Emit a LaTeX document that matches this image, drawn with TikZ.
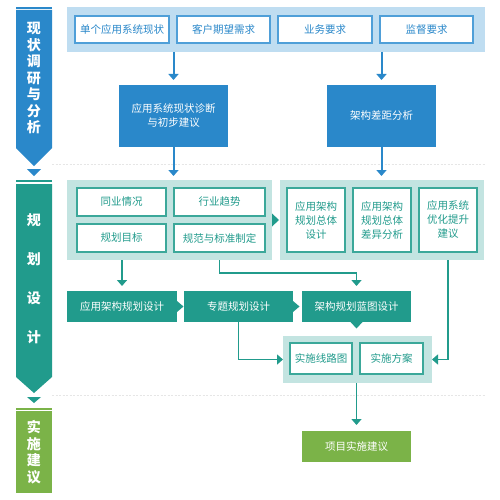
\documentclass[tikz,border=0pt]{standalone}
\usepackage{fontspec}
\setmainfont{Noto Sans CJK SC}
\usetikzlibrary{arrows.meta,calc}
\definecolor{cblue}{HTML}{2A88CA}
\definecolor{cbluelt}{HTML}{BFDDF1}
\definecolor{cblueln}{HTML}{4F9FD8}
\definecolor{cteal}{HTML}{219B8C}
\definecolor{ctealt}{HTML}{C3E4E1}
\definecolor{ctealln}{HTML}{3BA89A}
\definecolor{cgreen}{HTML}{7BB348}
\definecolor{cdash}{HTML}{E6E6E6}
\begin{document}
\begin{tikzpicture}[x=1pt,y=-1pt,
  every node/.style={inner sep=0pt,outer sep=0pt},
  sz/.style 2 args={minimum width=#1pt,minimum height=#2pt},
  fbox/.style={anchor=north west,align=center,font=\fontsize{10.5}{14}\selectfont},
  panelB/.style={fbox,fill=cbluelt},
  panelT/.style={fbox,fill=ctealt},
  inB/.style={fbox,fill=white,draw=cblueln,line width=1.2pt,text=cblue},
  inT/.style={fbox,fill=white,draw=ctealln,line width=1.2pt,text=cteal},
  solB/.style={fbox,fill=cblue,text=white},
  solT/.style={fbox,fill=cteal,text=white},
  solG/.style={fbox,fill=cgreen,text=white},
  bartext/.style={text=white,align=center,font=\fontsize{14}{16.5}\selectfont\bfseries},
  arrB/.style={draw=cblue,line width=2pt,-{Triangle[width=10pt,length=6pt]}},
  arrT/.style={draw=cteal,line width=1.4pt,-{Triangle[width=10pt,length=6pt]}},
  sep/.style={draw=cdash,line width=0.8pt,dash pattern=on 2pt off 1.5pt}
]
\useasboundingbox[fill=white] (0,0) rectangle (500,500);

% ---- left phase bars
\fill[cblue] (16,7) rectangle (52,8.6);
\fill[cblue] (16,10) -- (52,10) -- (52,148) -- (34,166) -- (16,148) -- cycle;
\fill[cblue] (27,169) -- (41,169) -- (34,176) -- cycle;
\node[bartext] (L1) at (34,78) {现\\状\\调\\研\\与\\分\\析};

\fill[cteal] (16,180) rectangle (52,182);
\fill[cteal] (16,184) -- (52,184) -- (52,377) -- (34,393) -- (16,377) -- cycle;
\fill[cteal] (27,397) -- (41,397) -- (34,403) -- cycle;
\node[bartext,font=\fontsize{14}{39}\selectfont\bfseries] (L2) at (34,279) {规\\划\\设\\计};

\fill[cgreen] (16,408) rectangle (52,409.6);
\fill[cgreen] (16,411) rectangle (52,493);
\node[bartext] (L3) at (34,452) {实\\施\\建\\议};

% ---- separators
\draw[sep] (52,164) -- (485,164);
\draw[sep] (52,395) -- (485,395);

% ---- phase 1
\node[panelB,sz={418}{45}] (P1) at (67,7) {};
\node[inB,sz={94}{27}] (B1) at (75,16) {单个应用系统现状};
\node[inB,sz={93}{27}] (B2) at (177,16) {客户期望需求};
\node[inB,sz={94}{27}] (B3) at (278,16) {业务要求};
\node[inB,sz={93}{27}] (B4) at (380,16) {监督要求};

\node[solB,sz={109}{62}] (D1) at (119,85) {应用系统现状诊断\\与初步建议};
\node[solB,sz={109}{62}] (D2) at (327,85) {架构差距分析};

\draw[arrB,shorten >=5pt] (P1.south -| D1.north) -- (D1.north);
\draw[arrB,shorten >=5pt] (P1.south -| D2.north) -- (D2.north);

% ---- phase 2
\node[panelT,sz={205}{80}] (P2) at (67,180) {};
\node[inT,sz={89}{28}] (S1) at (77,188) {同业情况};
\node[inT,sz={91}{28}] (S2) at (174,188) {行业趋势};
\node[inT,sz={89}{28}] (S3) at (77,224) {规划目标};
\node[inT,sz={91}{28}] (S4) at (174,224) {规范与标准制定};

\node[panelT,sz={204}{80}] (P3) at (280,180) {};
\node[inT,sz={58}{64}] (C1) at (287,188) {应用架构\\规划总体\\设计};
\node[inT,sz={58}{64}] (C2) at (353,188) {应用架构\\规划总体\\差异分析};
\node[inT,sz={58}{64}] (C3) at (419,188) {应用系统\\优化提升\\建议};
\fill[cteal] ($(P2.east)+(0,-6.5)$) -- ($(P2.east)+(7,0)$) -- ($(P2.east)+(0,6.5)$) -- cycle;

\draw[arrB,shorten >=4pt] (D1.south) -- (D1.south |- P2.north);
\draw[arrB,shorten >=4pt] (D2.south) -- (D2.south |- P3.north);

\node[solT,sz={110}{31}] (R1) at (67,291) {应用架构规划设计};
\node[solT,sz={109}{31}] (R2) at (184,291) {专题规划设计};
\node[solT,sz={109}{31}] (R3) at (302,291) {架构规划蓝图设计};
\fill[cteal] ($(R1.east)+(0,-5.5)$) -- ($(R1.east)+(6.5,0)$) -- ($(R1.east)+(0,5.5)$) -- cycle;
\fill[cteal] ($(R2.east)+(0,-5.5)$) -- ($(R2.east)+(6.5,0)$) -- ($(R2.east)+(0,5.5)$) -- cycle;
\fill[cteal] ($(R3.south)+(-6,0)$) -- ($(R3.south)+(6,0)$) -- ($(R3.south)+(0,6.5)$) -- cycle;

\draw[arrT,shorten >=5pt] (P2.south -| R1.north) -- (R1.north);
\draw[arrT,shorten >=5pt] (P2.south -| S4.south) -- ++(0,13) -| (R3.north);

\node[panelT,sz={149}{47}] (P4) at (283,336) {};
\node[inT,sz={62}{31}] (E1) at (290,343) {实施线路图};
\node[inT,sz={63}{31}] (E2) at (360,343) {实施方案};

\draw[arrT] (R2.south) |- (P4.west);
\draw[arrT] (P3.south -| C3.south) |- (P4.east);

% ---- phase 3
\node[solG,sz={109}{31}] (G1) at (302,431) {项目实施建议};
\draw[arrT,shorten >=6pt] (P4.south -| G1.north) -- (G1.north);
\end{tikzpicture}
\end{document}
